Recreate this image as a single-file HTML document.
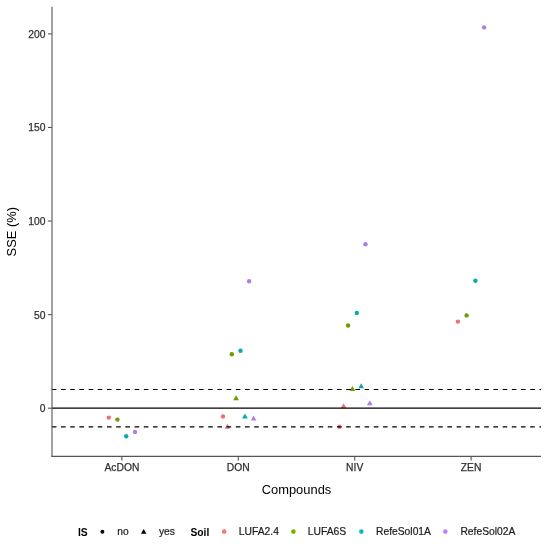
<!DOCTYPE html>
<html><head><meta charset="utf-8"><title>SSE plot</title><style>
html,body{margin:0;padding:0;background:#fff;}
svg{display:block;}
text{font-family:"Liberation Sans",Arial,Helvetica,sans-serif;}
.ax{font-size:10.3px;fill:#303030;stroke:#303030;stroke-width:0.25px;}
.tt{font-size:12.9px;fill:#000;}
.lt{font-size:10.3px;font-weight:bold;fill:#000;}
.lg{font-size:10.3px;fill:#1a1a1a;stroke:#1a1a1a;stroke-width:0.2px;}
</style></head>
<body>
<svg width="550" height="546" viewBox="0 0 550 546">
<rect width="550" height="546" fill="#fff"/>
<g>
<circle cx="108.8" cy="417.6" r="2.2" fill="#E8737A"/>
<circle cx="117.4" cy="419.6" r="2.2" fill="#6F9C06"/>
<circle cx="126.2" cy="436.2" r="2.2" fill="#0CA9AC"/>
<circle cx="135.0" cy="431.9" r="2.2" fill="#B07CE6"/>
<circle cx="223.0" cy="416.5" r="2.2" fill="#E8737A"/>
<circle cx="231.8" cy="354.2" r="2.2" fill="#6F9C06"/>
<circle cx="240.5" cy="350.8" r="2.2" fill="#0CA9AC"/>
<circle cx="249.1" cy="281.3" r="2.2" fill="#B07CE6"/>
<circle cx="339.5" cy="426.7" r="2.2" fill="#E8737A"/>
<circle cx="348.1" cy="325.5" r="2.2" fill="#6F9C06"/>
<circle cx="356.8" cy="312.9" r="2.2" fill="#0CA9AC"/>
<circle cx="365.5" cy="244.3" r="2.2" fill="#B07CE6"/>
<circle cx="457.9" cy="321.6" r="2.2" fill="#E8737A"/>
<circle cx="466.6" cy="315.4" r="2.2" fill="#6F9C06"/>
<circle cx="475.4" cy="280.8" r="2.2" fill="#0CA9AC"/>
<circle cx="484.1" cy="27.4" r="2.2" fill="#B07CE6"/>
<polygon points="227.40,423.70 230.26,428.65 224.54,428.65" fill="#E8737A"/>
<polygon points="236.10,395.20 238.96,400.15 233.24,400.15" fill="#6F9C06"/>
<polygon points="244.90,413.60 247.76,418.55 242.04,418.55" fill="#0CA9AC"/>
<polygon points="253.60,415.60 256.46,420.55 250.74,420.55" fill="#B07CE6"/>
<polygon points="343.60,403.20 346.46,408.15 340.74,408.15" fill="#E8737A"/>
<polygon points="352.40,386.00 355.26,390.95 349.54,390.95" fill="#6F9C06"/>
<polygon points="361.20,383.20 364.06,388.15 358.34,388.15" fill="#0CA9AC"/>
<polygon points="369.80,400.20 372.66,405.15 366.94,405.15" fill="#B07CE6"/>
<line x1="51.8" x2="541.0" y1="408.20" y2="408.20" stroke="#000" stroke-width="1.3"/>
<line x1="51.8" x2="541.0" y1="389.49" y2="389.49" stroke="#000" stroke-width="1.2" stroke-dasharray="4.6 4.6"/>
<line x1="51.8" x2="541.0" y1="426.91" y2="426.91" stroke="#000" stroke-width="1.2" stroke-dasharray="4.6 4.6"/>
<line x1="52.0" x2="52.0" y1="6.8" y2="456.9" stroke="#555" stroke-width="1.1"/>
<line x1="51.5" x2="541.0" y1="456.4" y2="456.4" stroke="#555" stroke-width="1.1"/>
<line x1="48" x2="52.0" y1="408.20" y2="408.20" stroke="#555" stroke-width="1.1"/>
<text x="45.5" y="412.20" text-anchor="end" class="ax">0</text>
<line x1="48" x2="52.0" y1="314.62" y2="314.62" stroke="#555" stroke-width="1.1"/>
<text x="45.5" y="318.62" text-anchor="end" class="ax">50</text>
<line x1="48" x2="52.0" y1="221.05" y2="221.05" stroke="#555" stroke-width="1.1"/>
<text x="45.5" y="225.05" text-anchor="end" class="ax">100</text>
<line x1="48" x2="52.0" y1="127.48" y2="127.48" stroke="#555" stroke-width="1.1"/>
<text x="45.5" y="131.48" text-anchor="end" class="ax">150</text>
<line x1="48" x2="52.0" y1="33.90" y2="33.90" stroke="#555" stroke-width="1.1"/>
<text x="45.5" y="37.90" text-anchor="end" class="ax">200</text>
<line x1="121.9" x2="121.9" y1="456.4" y2="460.4" stroke="#555" stroke-width="1.1"/>
<text x="121.9" y="470.8" text-anchor="middle" class="ax">AcDON</text>
<line x1="238.3" x2="238.3" y1="456.4" y2="460.4" stroke="#555" stroke-width="1.1"/>
<text x="238.3" y="470.8" text-anchor="middle" class="ax">DON</text>
<line x1="354.7" x2="354.7" y1="456.4" y2="460.4" stroke="#555" stroke-width="1.1"/>
<text x="354.7" y="470.8" text-anchor="middle" class="ax">NIV</text>
<line x1="471.1" x2="471.1" y1="456.4" y2="460.4" stroke="#555" stroke-width="1.1"/>
<text x="471.1" y="470.8" text-anchor="middle" class="ax">ZEN</text>
<text x="296.5" y="493.7" text-anchor="middle" class="tt">Compounds</text>
<text transform="translate(15.9 231.7) rotate(-90)" text-anchor="middle" class="tt">SSE (%)</text>
<text x="77.9" y="535.6" class="lt">IS</text>
<circle cx="102.4" cy="531.7" r="2.0" fill="#000"/>
<text x="117.3" y="535.2" class="lg">no</text>
<polygon points="143.70,528.90 146.47,533.70 140.93,533.70" fill="#000"/>
<text x="158.9" y="535.2" class="lg">yes</text>
<text x="190.4" y="535.6" class="lt">Soil</text>
<circle cx="224.2" cy="531.6" r="2.3" fill="#F8766D"/>
<text x="238.8" y="535.2" class="lg">LUFA2.4</text>
<circle cx="293.4" cy="531.6" r="2.3" fill="#7CAE00"/>
<text x="307.8" y="535.2" class="lg">LUFA6S</text>
<circle cx="361.3" cy="531.6" r="2.3" fill="#00BFC4"/>
<text x="376.0" y="535.2" class="lg">RefeSol01A</text>
<circle cx="445.3" cy="531.6" r="2.3" fill="#C77CFF"/>
<text x="460.4" y="535.2" class="lg">RefeSol02A</text>
</g>
</svg>
</body></html>
